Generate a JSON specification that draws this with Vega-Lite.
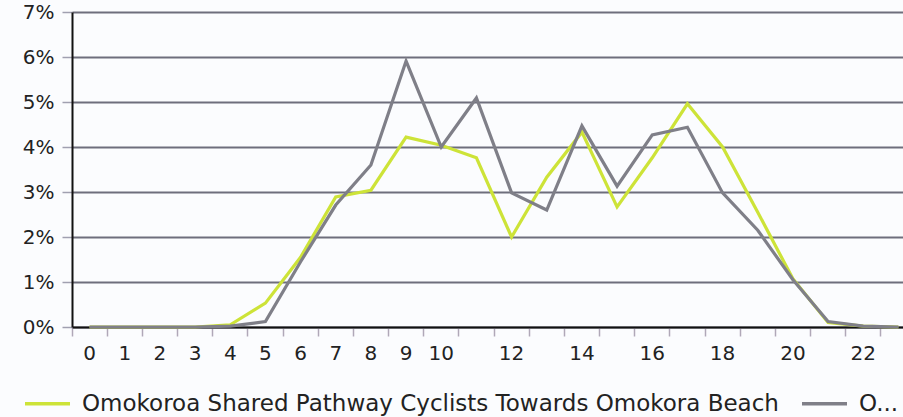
{
  "$schema": "https://vega.github.io/schema/vega-lite/v6.json",
  "autosize": {"type": "none"},
  "padding": {"left": 72, "top": 12, "right": 0, "bottom": 90},
  "width": 831,
  "height": 315,
  "background": "#fbfcfe",
  "config": {
    "view": {"stroke": null},
    "font": "DejaVu Sans"
  },
  "data": {
    "values": [
      {"hour": 0, "series": "Omokoroa Shared Pathway Cyclists Towards Omokora Beach", "pct": 0.0},
      {"hour": 1, "series": "Omokoroa Shared Pathway Cyclists Towards Omokora Beach", "pct": 0.0},
      {"hour": 2, "series": "Omokoroa Shared Pathway Cyclists Towards Omokora Beach", "pct": 0.0},
      {"hour": 3, "series": "Omokoroa Shared Pathway Cyclists Towards Omokora Beach", "pct": 0.0},
      {"hour": 4, "series": "Omokoroa Shared Pathway Cyclists Towards Omokora Beach", "pct": 0.0005},
      {"hour": 5, "series": "Omokoroa Shared Pathway Cyclists Towards Omokora Beach", "pct": 0.0053},
      {"hour": 6, "series": "Omokoroa Shared Pathway Cyclists Towards Omokora Beach", "pct": 0.0155},
      {"hour": 7, "series": "Omokoroa Shared Pathway Cyclists Towards Omokora Beach", "pct": 0.0289},
      {"hour": 8, "series": "Omokoroa Shared Pathway Cyclists Towards Omokora Beach", "pct": 0.0304},
      {"hour": 9, "series": "Omokoroa Shared Pathway Cyclists Towards Omokora Beach", "pct": 0.0422},
      {"hour": 10, "series": "Omokoroa Shared Pathway Cyclists Towards Omokora Beach", "pct": 0.0404},
      {"hour": 11, "series": "Omokoroa Shared Pathway Cyclists Towards Omokora Beach", "pct": 0.0376},
      {"hour": 12, "series": "Omokoroa Shared Pathway Cyclists Towards Omokora Beach", "pct": 0.0200},
      {"hour": 13, "series": "Omokoroa Shared Pathway Cyclists Towards Omokora Beach", "pct": 0.0333},
      {"hour": 14, "series": "Omokoroa Shared Pathway Cyclists Towards Omokora Beach", "pct": 0.0433},
      {"hour": 15, "series": "Omokoroa Shared Pathway Cyclists Towards Omokora Beach", "pct": 0.0267},
      {"hour": 16, "series": "Omokoroa Shared Pathway Cyclists Towards Omokora Beach", "pct": 0.0376},
      {"hour": 17, "series": "Omokoroa Shared Pathway Cyclists Towards Omokora Beach", "pct": 0.0496},
      {"hour": 18, "series": "Omokoroa Shared Pathway Cyclists Towards Omokora Beach", "pct": 0.0400},
      {"hour": 19, "series": "Omokoroa Shared Pathway Cyclists Towards Omokora Beach", "pct": 0.0255},
      {"hour": 20, "series": "Omokoroa Shared Pathway Cyclists Towards Omokora Beach", "pct": 0.0107},
      {"hour": 21, "series": "Omokoroa Shared Pathway Cyclists Towards Omokora Beach", "pct": 0.0010},
      {"hour": 22, "series": "Omokoroa Shared Pathway Cyclists Towards Omokora Beach", "pct": 0.0002},
      {"hour": 23, "series": "Omokoroa Shared Pathway Cyclists Towards Omokora Beach", "pct": 0.0},
      {"hour": 0, "series": "Omokoroa Shared Pathway Cyclists Towards Omokoroa Road", "pct": 0.0},
      {"hour": 1, "series": "Omokoroa Shared Pathway Cyclists Towards Omokoroa Road", "pct": 0.0},
      {"hour": 2, "series": "Omokoroa Shared Pathway Cyclists Towards Omokoroa Road", "pct": 0.0},
      {"hour": 3, "series": "Omokoroa Shared Pathway Cyclists Towards Omokoroa Road", "pct": 0.0},
      {"hour": 4, "series": "Omokoroa Shared Pathway Cyclists Towards Omokoroa Road", "pct": 0.0002},
      {"hour": 5, "series": "Omokoroa Shared Pathway Cyclists Towards Omokoroa Road", "pct": 0.0012},
      {"hour": 6, "series": "Omokoroa Shared Pathway Cyclists Towards Omokoroa Road", "pct": 0.0145},
      {"hour": 7, "series": "Omokoroa Shared Pathway Cyclists Towards Omokoroa Road", "pct": 0.0271},
      {"hour": 8, "series": "Omokoroa Shared Pathway Cyclists Towards Omokoroa Road", "pct": 0.0360},
      {"hour": 9, "series": "Omokoroa Shared Pathway Cyclists Towards Omokoroa Road", "pct": 0.0591},
      {"hour": 10, "series": "Omokoroa Shared Pathway Cyclists Towards Omokoroa Road", "pct": 0.0400},
      {"hour": 11, "series": "Omokoroa Shared Pathway Cyclists Towards Omokoroa Road", "pct": 0.0509},
      {"hour": 12, "series": "Omokoroa Shared Pathway Cyclists Towards Omokoroa Road", "pct": 0.0298},
      {"hour": 13, "series": "Omokoroa Shared Pathway Cyclists Towards Omokoroa Road", "pct": 0.0260},
      {"hour": 14, "series": "Omokoroa Shared Pathway Cyclists Towards Omokoroa Road", "pct": 0.0447},
      {"hour": 15, "series": "Omokoroa Shared Pathway Cyclists Towards Omokoroa Road", "pct": 0.0313},
      {"hour": 16, "series": "Omokoroa Shared Pathway Cyclists Towards Omokoroa Road", "pct": 0.0427},
      {"hour": 17, "series": "Omokoroa Shared Pathway Cyclists Towards Omokoroa Road", "pct": 0.0444},
      {"hour": 18, "series": "Omokoroa Shared Pathway Cyclists Towards Omokoroa Road", "pct": 0.0298},
      {"hour": 19, "series": "Omokoroa Shared Pathway Cyclists Towards Omokoroa Road", "pct": 0.0215},
      {"hour": 20, "series": "Omokoroa Shared Pathway Cyclists Towards Omokoroa Road", "pct": 0.0105},
      {"hour": 21, "series": "Omokoroa Shared Pathway Cyclists Towards Omokoroa Road", "pct": 0.0012},
      {"hour": 22, "series": "Omokoroa Shared Pathway Cyclists Towards Omokoroa Road", "pct": 0.0002},
      {"hour": 23, "series": "Omokoroa Shared Pathway Cyclists Towards Omokoroa Road", "pct": 0.0}
    ]
  },
  "mark": {"type": "line", "strokeWidth": 3.2, "clip": false},
  "encoding": {
    "x": {
      "field": "hour",
      "type": "ordinal",
      "bandPosition": 0.5,
      "scale": {"type": "band", "range": [0, 844], "paddingInner": 0, "paddingOuter": 0},
      "axis": {
        "title": null,
        "labelAngle": 0,
        "labelOverlap": false,
        "labelExpr": "(datum.value <= 10 || datum.value % 2 == 0) ? datum.label : ''",
        "labelFontSize": 20,
        "labelColor": "#222222",
        "labelPadding": 7,
        "bandPosition": 0,
        "tickSize": 9,
        "tickColor": "#b0a8b8",
        "tickWidth": 1.5,
        "domainColor": "#111111",
        "domainWidth": 2,
        "grid": false
      }
    },
    "y": {
      "field": "pct",
      "type": "quantitative",
      "scale": {"domain": [0, 0.07], "nice": false},
      "axis": {
        "title": null,
        "values": [0, 0.01, 0.02, 0.03, 0.04, 0.05, 0.06, 0.07],
        "format": ".0%",
        "labelFontSize": 20,
        "labelColor": "#222222",
        "labelPadding": 8,
        "tickSize": 10,
        "tickColor": "#a0a0b0",
        "tickWidth": 1.5,
        "domainColor": "#111111",
        "domainWidth": 2,
        "grid": true,
        "gridColor": "#6e6e7c",
        "gridWidth": 1.8
      }
    },
    "color": {
      "field": "series",
      "type": "nominal",
      "scale": {"range": ["#cde338", "#7f7f88"]},
      "legend": {
        "title": null,
        "orient": "none",
        "direction": "horizontal",
        "legendX": -49,
        "legendY": 367,
        "padding": 0,
        "symbolType": "stroke",
        "symbolSize": 2025,
        "symbolStrokeWidth": 3.5,
        "labelFontSize": 23,
        "labelColor": "#222222",
        "labelOffset": 10,
        "labelLimit": 900,
        "columnPadding": 16,
        "labelExpr": "datum.value == 'Omokoroa Shared Pathway Cyclists Towards Omokoroa Road' ? 'O...' : datum.label"
      }
    }
  }
}
